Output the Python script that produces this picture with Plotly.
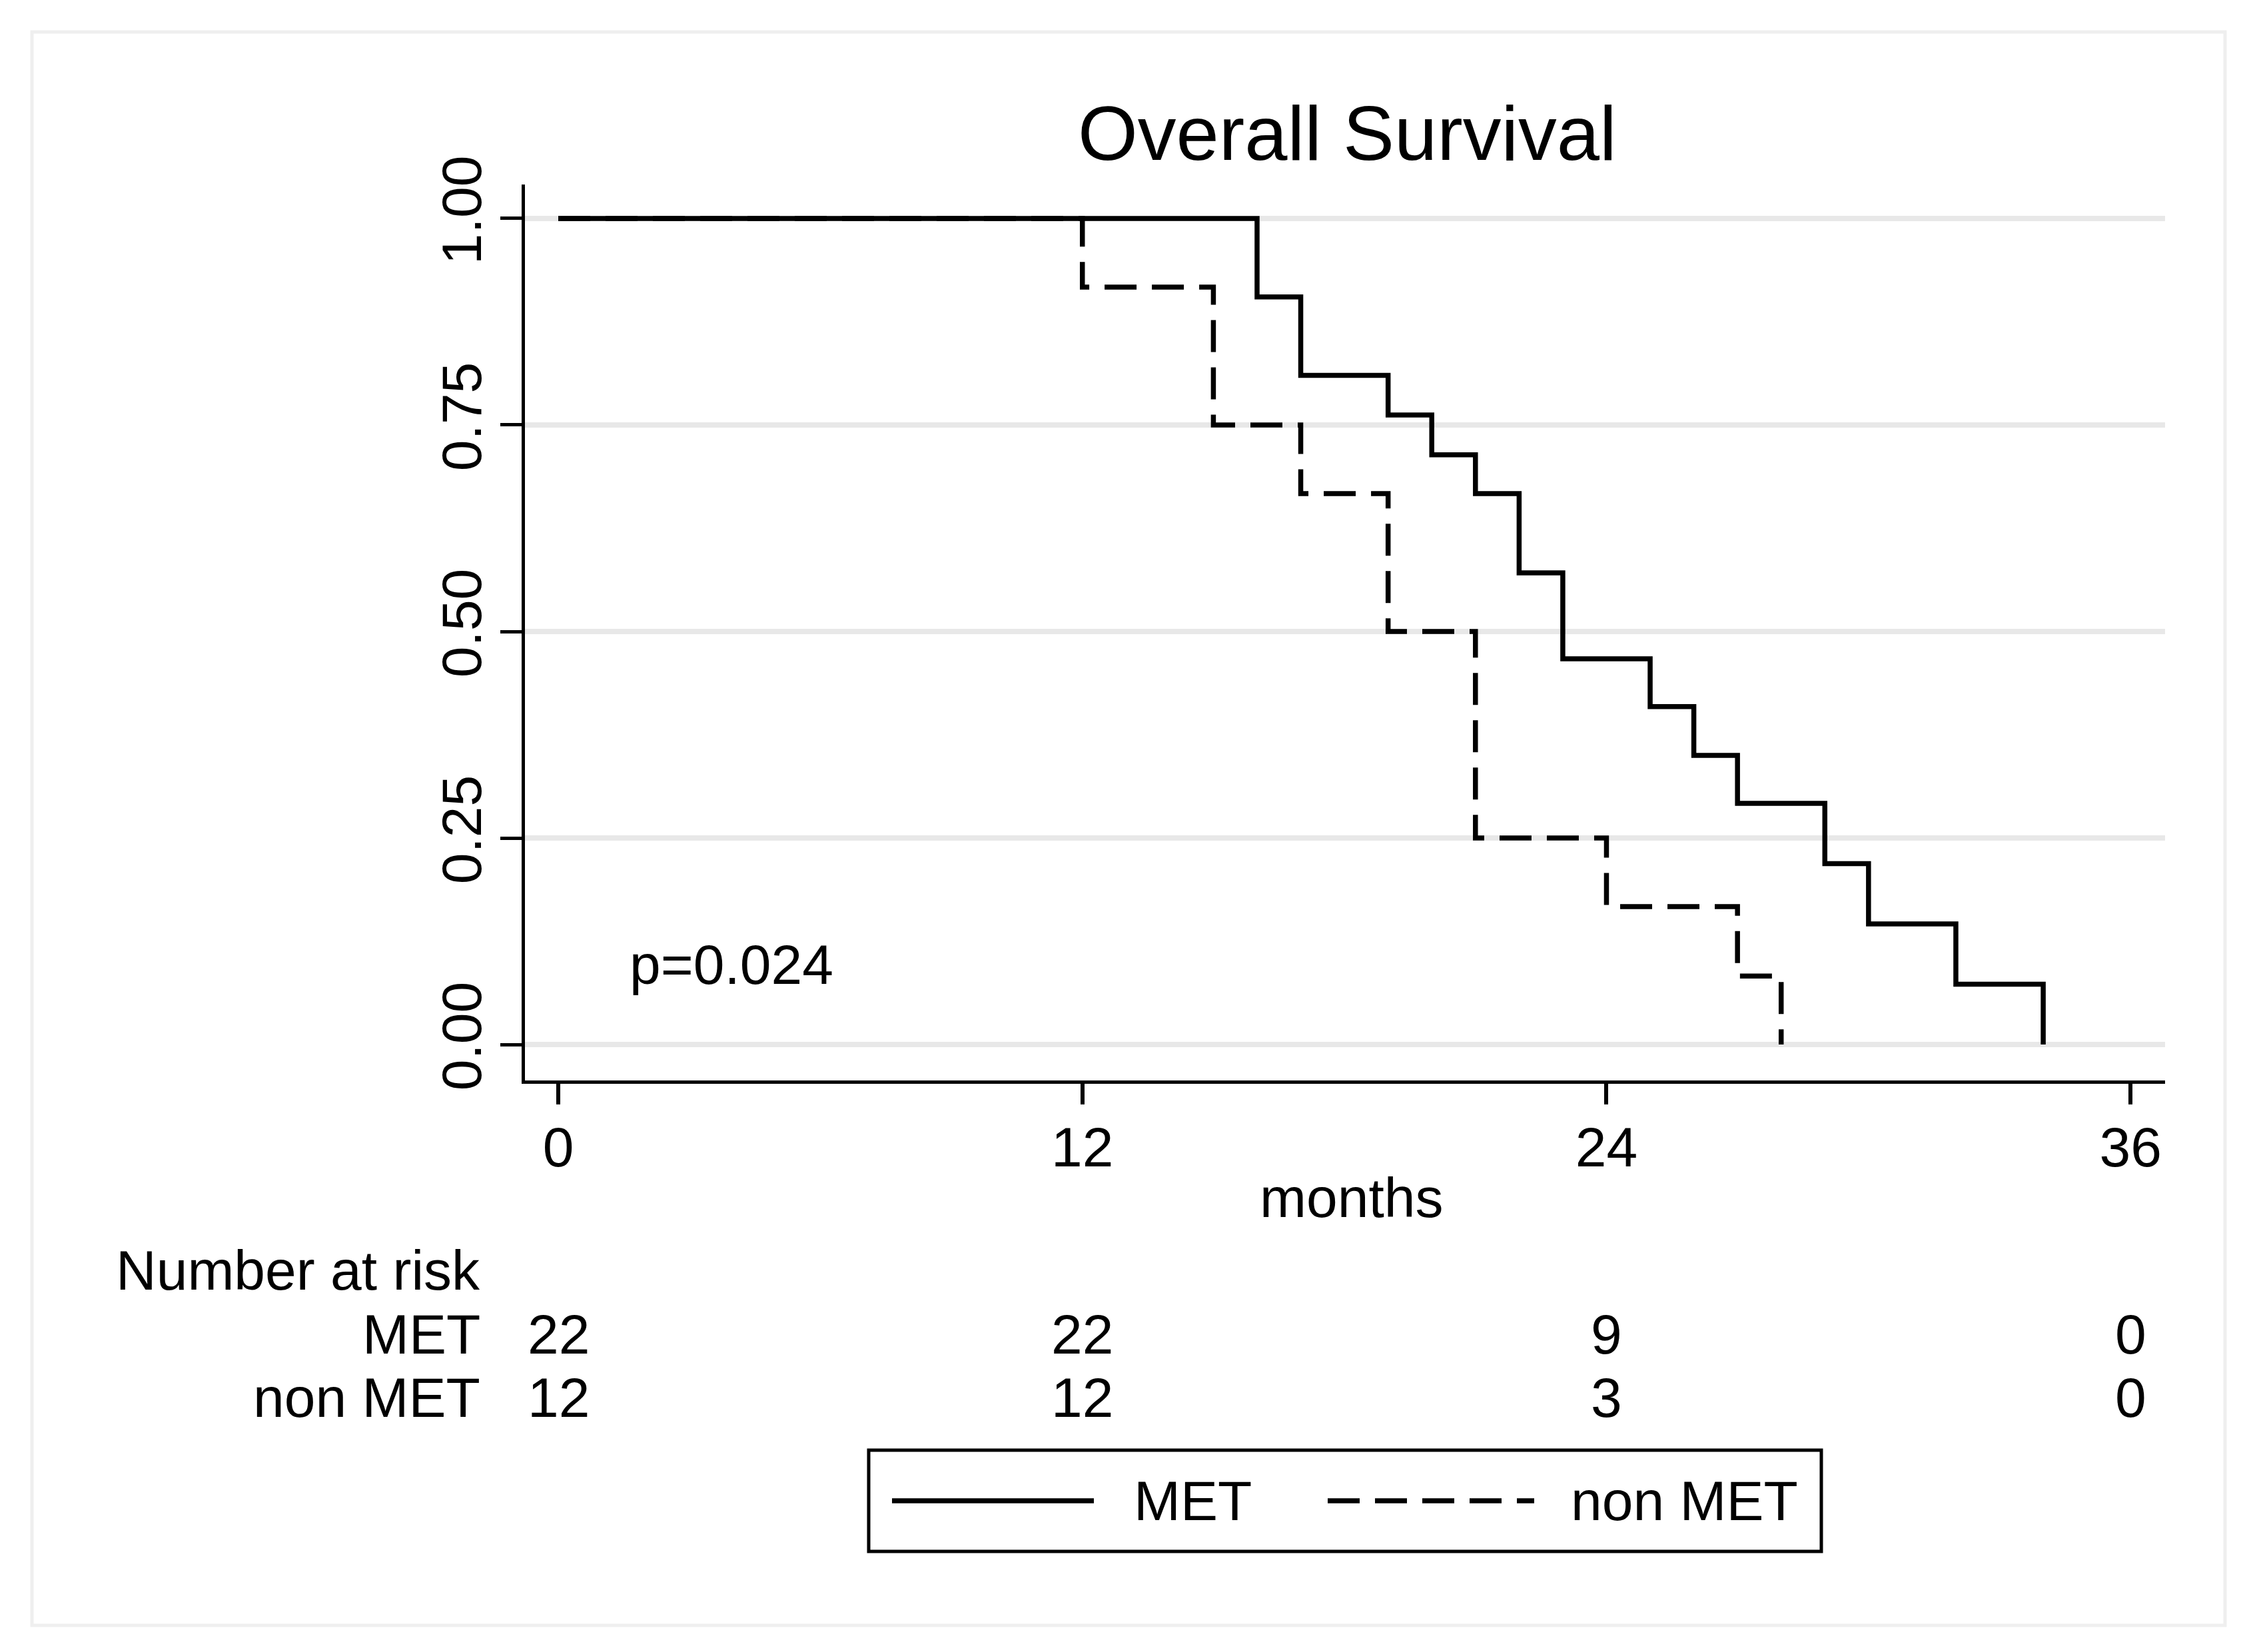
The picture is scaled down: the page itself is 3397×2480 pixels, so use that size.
import plotly.graph_objects as go

# Kaplan-Meier estimates
met_months = [0, 16, 17, 19, 20, 21, 22, 23, 25, 26, 27, 29, 30, 32, 34]
met_surv = [1.0, 0.905, 0.810, 0.762, 0.714, 0.667, 0.571, 0.467, 0.409, 0.350, 0.292, 0.219, 0.146, 0.073, 0.0]

nonmet_months = [0, 12, 15, 17, 19, 21, 24, 27, 28]
nonmet_surv = [1.0, 0.917, 0.750, 0.667, 0.500, 0.250, 0.167, 0.083, 0.0]

x_ticks = [0, 12, 24, 36]
y_ticks = [0, 0.25, 0.5, 0.75, 1.0]
y_ticktext = ["0.00", "0.25", "0.50", "0.75", "1.00"]

risk_groups = ["MET", "non MET"]
risk_met = [22, 22, 9, 0]
risk_nonmet = [12, 12, 3, 0]

FONT = "Liberation Sans, Arial, sans-serif"
FS = 84
DASH = "48px,23px"

# page pixels; the html body has an 8px margin
OFF = 8
W, H = 3397 - OFF, 2480 - OFF
L, R, T, B = 788, 3250, 277, 1622   # plot area in page pixels


def px_y(py):
    # page pixel row -> paper y
    return (B - py) / (B - T)


def px_x(px):
    return (px - L) / (R - L)


fig = go.Figure()

fig.add_trace(go.Scatter(
    x=nonmet_months, y=nonmet_surv, mode="lines", line_shape="hv",
    line=dict(color="black", width=7.5, dash=DASH), name="non MET",
))
fig.add_trace(go.Scatter(
    x=met_months, y=met_surv, mode="lines", line_shape="hv",
    line=dict(color="black", width=7.5), name="MET",
))

txt = dict(size=FS, family=FONT, color="black")
annotations = [
    dict(text="Overall Survival", x=px_x(2022), y=px_y(199), xref="paper", yref="paper",
         showarrow=False, font=dict(size=115.5, family=FONT, color="black"), xanchor="center", yanchor="middle"),
    dict(text="p=0.024", x=1.6, y=0.097, xref="x", yref="y", showarrow=False,
         font=txt, xanchor="left", yanchor="middle"),
    dict(text="months", x=px_x(2028), y=px_y(1798), xref="paper", yref="paper", showarrow=False,
         font=txt, xanchor="center", yanchor="middle"),
    dict(text="Number at risk", x=px_x(723), y=px_y(1907), xref="paper", yref="paper", showarrow=False,
         font=txt, xanchor="right", yanchor="middle"),
]

rows = [(risk_groups[0], risk_met, 2003), (risk_groups[1], risk_nonmet, 2098)]
for label, counts, py in rows:
    annotations.append(dict(text=label, x=px_x(723), y=px_y(py), xref="paper", yref="paper",
                            showarrow=False, font=txt, xanchor="right", yanchor="middle"))
    for t, n in zip(x_ticks, counts):
        annotations.append(dict(text=str(n), x=t, y=px_y(py), xref="x", yref="paper",
                                showarrow=False, font=txt, xanchor="center", yanchor="middle"))

# hand-drawn legend (Stata style, long line samples)
leg_y = px_y(2253)
annotations += [
    dict(text="MET", x=px_x(1700), y=leg_y, xref="paper", yref="paper", showarrow=False,
         font=txt, xanchor="left", yanchor="middle"),
    dict(text="non MET", x=px_x(2356), y=leg_y, xref="paper", yref="paper", showarrow=False,
         font=txt, xanchor="left", yanchor="middle"),
]

shapes = [
    # outer graph frame
    dict(type="rect", xref="paper", yref="paper", x0=px_x(48), x1=px_x(3340), y0=px_y(48), y1=px_y(2440),
         line=dict(color="#efefef", width=5), layer="below"),
    # legend box
    dict(type="rect", xref="paper", yref="paper", x0=px_x(1304), x1=px_x(2734), y0=px_y(2177), y1=px_y(2329),
         line=dict(color="black", width=5)),
    dict(type="line", xref="paper", yref="paper", x0=px_x(1339), x1=px_x(1642), y0=leg_y, y1=leg_y,
         line=dict(color="black", width=7.5)),
    dict(type="line", xref="paper", yref="paper", x0=px_x(1993), x1=px_x(2303), y0=leg_y, y1=leg_y,
         line=dict(color="black", width=7.5, dash=DASH)),
]

fig.update_layout(
    width=W, height=H,
    margin=dict(l=L - OFF, r=W - (R - OFF), t=T - OFF, b=H - (B - OFF), pad=0),
    paper_bgcolor="white", plot_bgcolor="white",
    showlegend=False,
    annotations=annotations,
    shapes=shapes,
    font=txt,
)

fig.update_xaxes(
    range=[-0.763, 36.79], tickvals=x_ticks, ticks="outside", ticklen=31, tickwidth=6,
    tickcolor="black", showline=True, linecolor="black", linewidth=5, showgrid=False,
    zeroline=False, tickfont=txt, ticklabelstandoff=-8,
)
fig.update_yaxes(
    range=[-0.0435, 1.0411], tickvals=y_ticks, ticktext=y_ticktext, tickangle=-90,
    ticks="outside", ticklen=32, tickwidth=5, tickcolor="black", showline=True,
    linecolor="black", linewidth=5, showgrid=True, gridcolor="#e8e8e8", gridwidth=8,
    zeroline=False, tickfont=txt, ticklabelstandoff=-5,
)

fig.write_html("out.html")
